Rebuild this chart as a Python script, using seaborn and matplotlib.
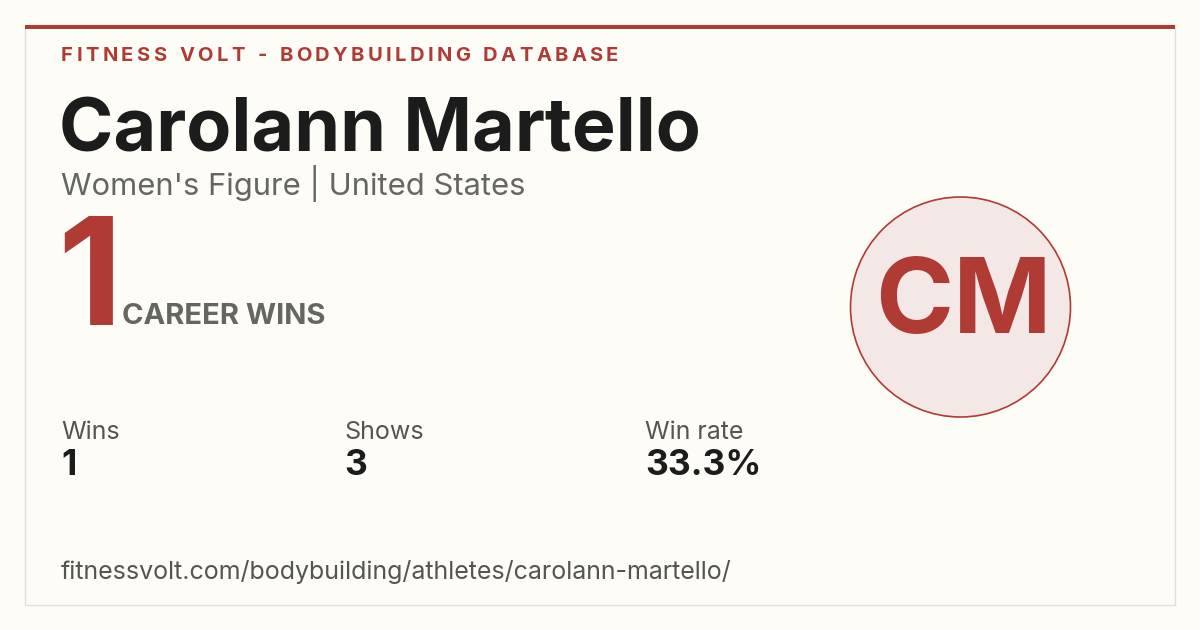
import matplotlib
matplotlib.use("Agg")
import matplotlib.pyplot as plt
from matplotlib.patches import Rectangle, Circle
import seaborn as sns

# card data
brand = "FITNESS VOLT - BODYBUILDING DATABASE"
athlete = "Carolann Martello"
division = "Women's Figure | United States"
career_wins = "1"
initials = "CM"
stat_labels = ["Wins", "Shows", "Win rate"]
stat_values = ["1", "3", "33.3%"]
stat_x = [61, 344, 645]
url = "fitnessvolt.com/bodybuilding/athletes/carolann-martello/"

RED = "#B03A34"
BG = "#FDFCF7"
DARK = "#1C1C1C"
GREY = "#666660"

sns.set_theme(style="white")
plt.rcParams["font.family"] = ["Inter", "DejaVu Sans"]

fig = plt.figure(figsize=(12, 6.3), dpi=100, facecolor=BG)
ax = fig.add_axes([0, 0, 1, 1])
ax.set_xlim(0, 1200)
ax.set_ylim(630, 0)
ax.axis("off")
ax.set_facecolor(BG)

# card frame
ax.add_patch(Rectangle((25, 25), 1150, 580, facecolor=BG, edgecolor="#E2E0DA", lw=1))
ax.add_patch(Rectangle((25, 24.5), 1150, 4, facecolor=RED, edgecolor="none"))

fig.canvas.draw()
renderer = fig.canvas.get_renderer()


def spaced_text(x, y, s, spacing, **kw):
    # matplotlib has no letter-spacing, place chars one by one
    for ch in s:
        t = ax.text(x, y, ch, **kw)
        if ch == " ":
            w = kw.get("fontsize", 10) * 0.3 / 0.72
        else:
            w = t.get_window_extent(renderer).width
        x += w + spacing


spaced_text(61, 61, brand, 3.35, fontsize=14.5, fontweight="bold", color=RED, va="baseline")

ax.text(59, 151, athlete, fontsize=53, fontweight="bold", color=DARK, va="baseline")
ax.text(61, 194.5, division, fontsize=22.3, color=GREY, va="baseline")

ax.text(57, 325, career_wins, fontsize=108, fontweight="bold", color=RED, va="baseline")
ax.text(122, 324, "CAREER WINS", fontsize=21, fontweight="bold", color=GREY, va="baseline")

for lab, val, x in zip(stat_labels, stat_values, stat_x):
    ax.text(x, 439, lab, fontsize=18, color="#555550", va="baseline")
    ax.text(x, 475, val, fontsize=25.5, fontweight="bold", color=DARK, va="baseline")

ax.text(61, 579, url, fontsize=18, color="#555550", va="baseline")

# avatar
ax.add_patch(Circle((960.5, 307), 110, facecolor="#F4E8E7", edgecolor=RED, lw=1.2))
ax.text(963, 333, initials, fontsize=76, fontweight="bold", color=RED,
        ha="center", va="baseline")

fig.savefig("out.png", dpi=100, facecolor=BG)
